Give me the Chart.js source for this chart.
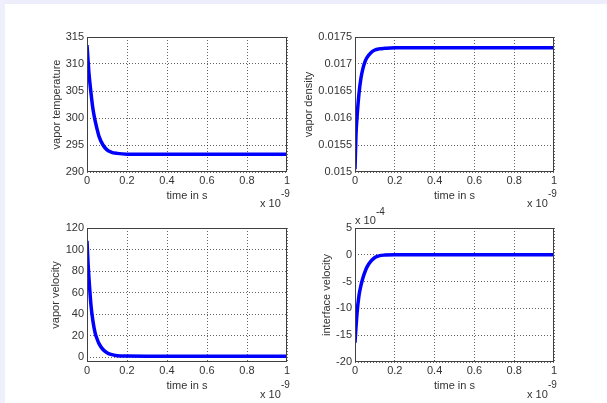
<!DOCTYPE html>
<html>
<head>
<meta charset="utf-8">
<script src="https://cdn.jsdelivr.net/npm/chart.js@4"></script>
<style>
  html, body { margin: 0; padding: 0; background: #fff; }
  #fig { position: relative; width: 607px; height: 403px; overflow: hidden; background: #fff;
         font-family: 'Liberation Sans', Arial, sans-serif; color: #333; }
  #fig canvas { position: absolute; }
  .band-top { position: absolute; left: 0; top: 0; width: 607px; height: 4px; background: #ededfc; }
  .band-left { position: absolute; left: 0; top: 0; width: 5px; height: 403px; background: #efeffd; }
  .note { position: absolute; font-size: 11px; line-height: 12px; white-space: nowrap; }
  .sup { position: absolute; font-size: 10px; line-height: 10px; white-space: nowrap; }
</style>
</head>
<body>
<div id="fig">
  <div class="band-top"></div>
  <div class="band-left"></div>
  <canvas id="tempChart" width="257" height="180" style="left:50px;top:27px"></canvas>
  <canvas id="densChart" width="272" height="180" style="left:302px;top:27px"></canvas>
  <canvas id="velChart" width="258" height="179" style="left:49px;top:218px"></canvas>
  <canvas id="ifaceChart" width="254" height="179" style="left:320px;top:218px"></canvas>

  <span class="note" style="left:260px;top:197px">x 10</span><span class="sup" style="left:281px;top:189px">-9</span>
  <span class="note" style="left:527px;top:197px">x 10</span><span class="sup" style="left:548px;top:189px">-9</span>
  <span class="note" style="left:260px;top:388px">x 10</span><span class="sup" style="left:281px;top:380px">-9</span>
  <span class="note" style="left:527px;top:388px">x 10</span><span class="sup" style="left:548px;top:380px">-9</span>
  <span class="note" style="left:355px;top:214px">x 10</span><span class="sup" style="left:376px;top:207px">-4</span>
</div>
<script>
// time axis, in units of 1e-9 s
const time = [0, 0.005, 0.01, 0.02, 0.03, 0.04, 0.05, 0.06, 0.08, 0.1, 0.12, 0.15, 0.2,
              0.3, 0.4, 0.5, 0.6, 0.7, 0.8, 0.9, 1.0];
const timeTicks = [0, 0.2, 0.4, 0.6, 0.8, 1];

const vaporTemperature = [313.5, 310.8, 308.2, 304.6, 301.6, 299.6, 298.0, 296.6, 295.0, 294.1, 293.7, 293.45, 293.3,
                          293.3, 293.3, 293.3, 293.3, 293.3, 293.3, 293.3, 293.3];
const temperatureTicks = [290, 295, 300, 305, 310, 315];

const vaporDensity = [0.01505, 0.0157, 0.0160, 0.01645, 0.01674, 0.01692, 0.01704, 0.01712, 0.01721, 0.01726, 0.01728, 0.01729, 0.0173,
                      0.0173, 0.0173, 0.0173, 0.0173, 0.0173, 0.0173, 0.0173, 0.0173];
const densityTicks = [0.015, 0.0155, 0.016, 0.0165, 0.017, 0.0175];

const vaporVelocity = [108, 88, 73, 48, 33, 23, 17, 12.5, 7, 4, 2.5, 1.3, 0.9,
                       0.8, 0.8, 0.8, 0.8, 0.8, 0.8, 0.8, 0.8];
const velocityTicks = [0, 20, 40, 60, 80, 100, 120];

// interface velocity, in units of 1e-4
const interfaceVelocity = [-16.4, -13.5, -11, -7.6, -5.7, -4.3, -3.2, -2.3, -1.2, -0.5, -0.2, -0.05, 0,
                           0, 0, 0, 0, 0, 0, 0, 0];
const interfaceTicks = [-20, -15, -10, -5, 0, 5];

Chart.defaults.font.family = "'Liberation Sans', Arial, sans-serif";
Chart.defaults.font.size = 11;
Chart.defaults.color = '#333';

// MATLAB style closed box around the axes
const boxPlugin = {
    id: 'axesBox',
    afterDraw(chart) {
        const a = chart.chartArea;
        const ctx = chart.ctx;
        ctx.save();
        ctx.strokeStyle = '#404040';
        ctx.lineWidth = 1;
        ctx.strokeRect(Math.round(a.left) + 0.5, Math.round(a.top) + 0.5,
                       Math.round(a.right - a.left) - 1, Math.round(a.bottom - a.top) - 1);
        ctx.restore();
    }
};

function makeChart(id, values, ticks, yMin, yMax, yTitle, yWidth) {
    const ctx = document.getElementById(id).getContext('2d');
    return new Chart(ctx, {
        type: 'line',
        data: {
            datasets: [{
                data: time.map((t, i) => ({ x: t, y: values[i] })),
                borderColor: '#0000ff',
                borderWidth: 3.5,
                pointRadius: 0,
                fill: false,
                cubicInterpolationMode: 'monotone'
            }]
        },
        options: {
            responsive: false,
            animation: false,
            layout: { padding: { top: 10, right: 20, bottom: 4, left: 0 } },
            plugins: { legend: { display: false }, tooltip: { enabled: false } },
            scales: {
                x: {
                    type: 'linear',
                    min: 0,
                    max: 1,
                    afterBuildTicks: s => { s.ticks = timeTicks.map(v => ({ value: v })); },
                    afterFit: s => { s.height = 31; },
                    ticks: { padding: 2, color: '#333', callback: v => String(v) },
                    grid: { color: 'rgba(0,0,0,0.6)', lineWidth: 1, drawTicks: false },
                    border: { display: false, dash: [1, 2] },
                    title: { display: true, text: 'time in s', color: '#333', padding: 0,
                             font: { size: 11, lineHeight: 1.2 } }
                },
                y: {
                    type: 'linear',
                    min: yMin,
                    max: yMax,
                    afterBuildTicks: s => { s.ticks = ticks.map(v => ({ value: v })); },
                    afterFit: s => { s.width = yWidth; },
                    ticks: { padding: 3, color: '#333', callback: v => String(parseFloat(v.toFixed(5))) },
                    grid: { color: 'rgba(0,0,0,0.6)', lineWidth: 1, drawTicks: false },
                    border: { display: false, dash: [1, 2] },
                    title: { display: true, text: yTitle, color: '#333', padding: 0,
                             font: { size: 11, lineHeight: 1.2 } }
                }
            }
        },
        plugins: [boxPlugin]
    });
}

makeChart('tempChart', vaporTemperature, temperatureTicks, 290, 315, 'vapor temperature', 37);
makeChart('densChart', vaporDensity, densityTicks, 0.015, 0.0175, 'vapor density', 53);
makeChart('velChart', vaporVelocity, velocityTicks, -4.6, 120, 'vapor velocity', 38);
makeChart('ifaceChart', interfaceVelocity, interfaceTicks, -20, 5, 'interface velocity', 35);
</script>
</body>
</html>
